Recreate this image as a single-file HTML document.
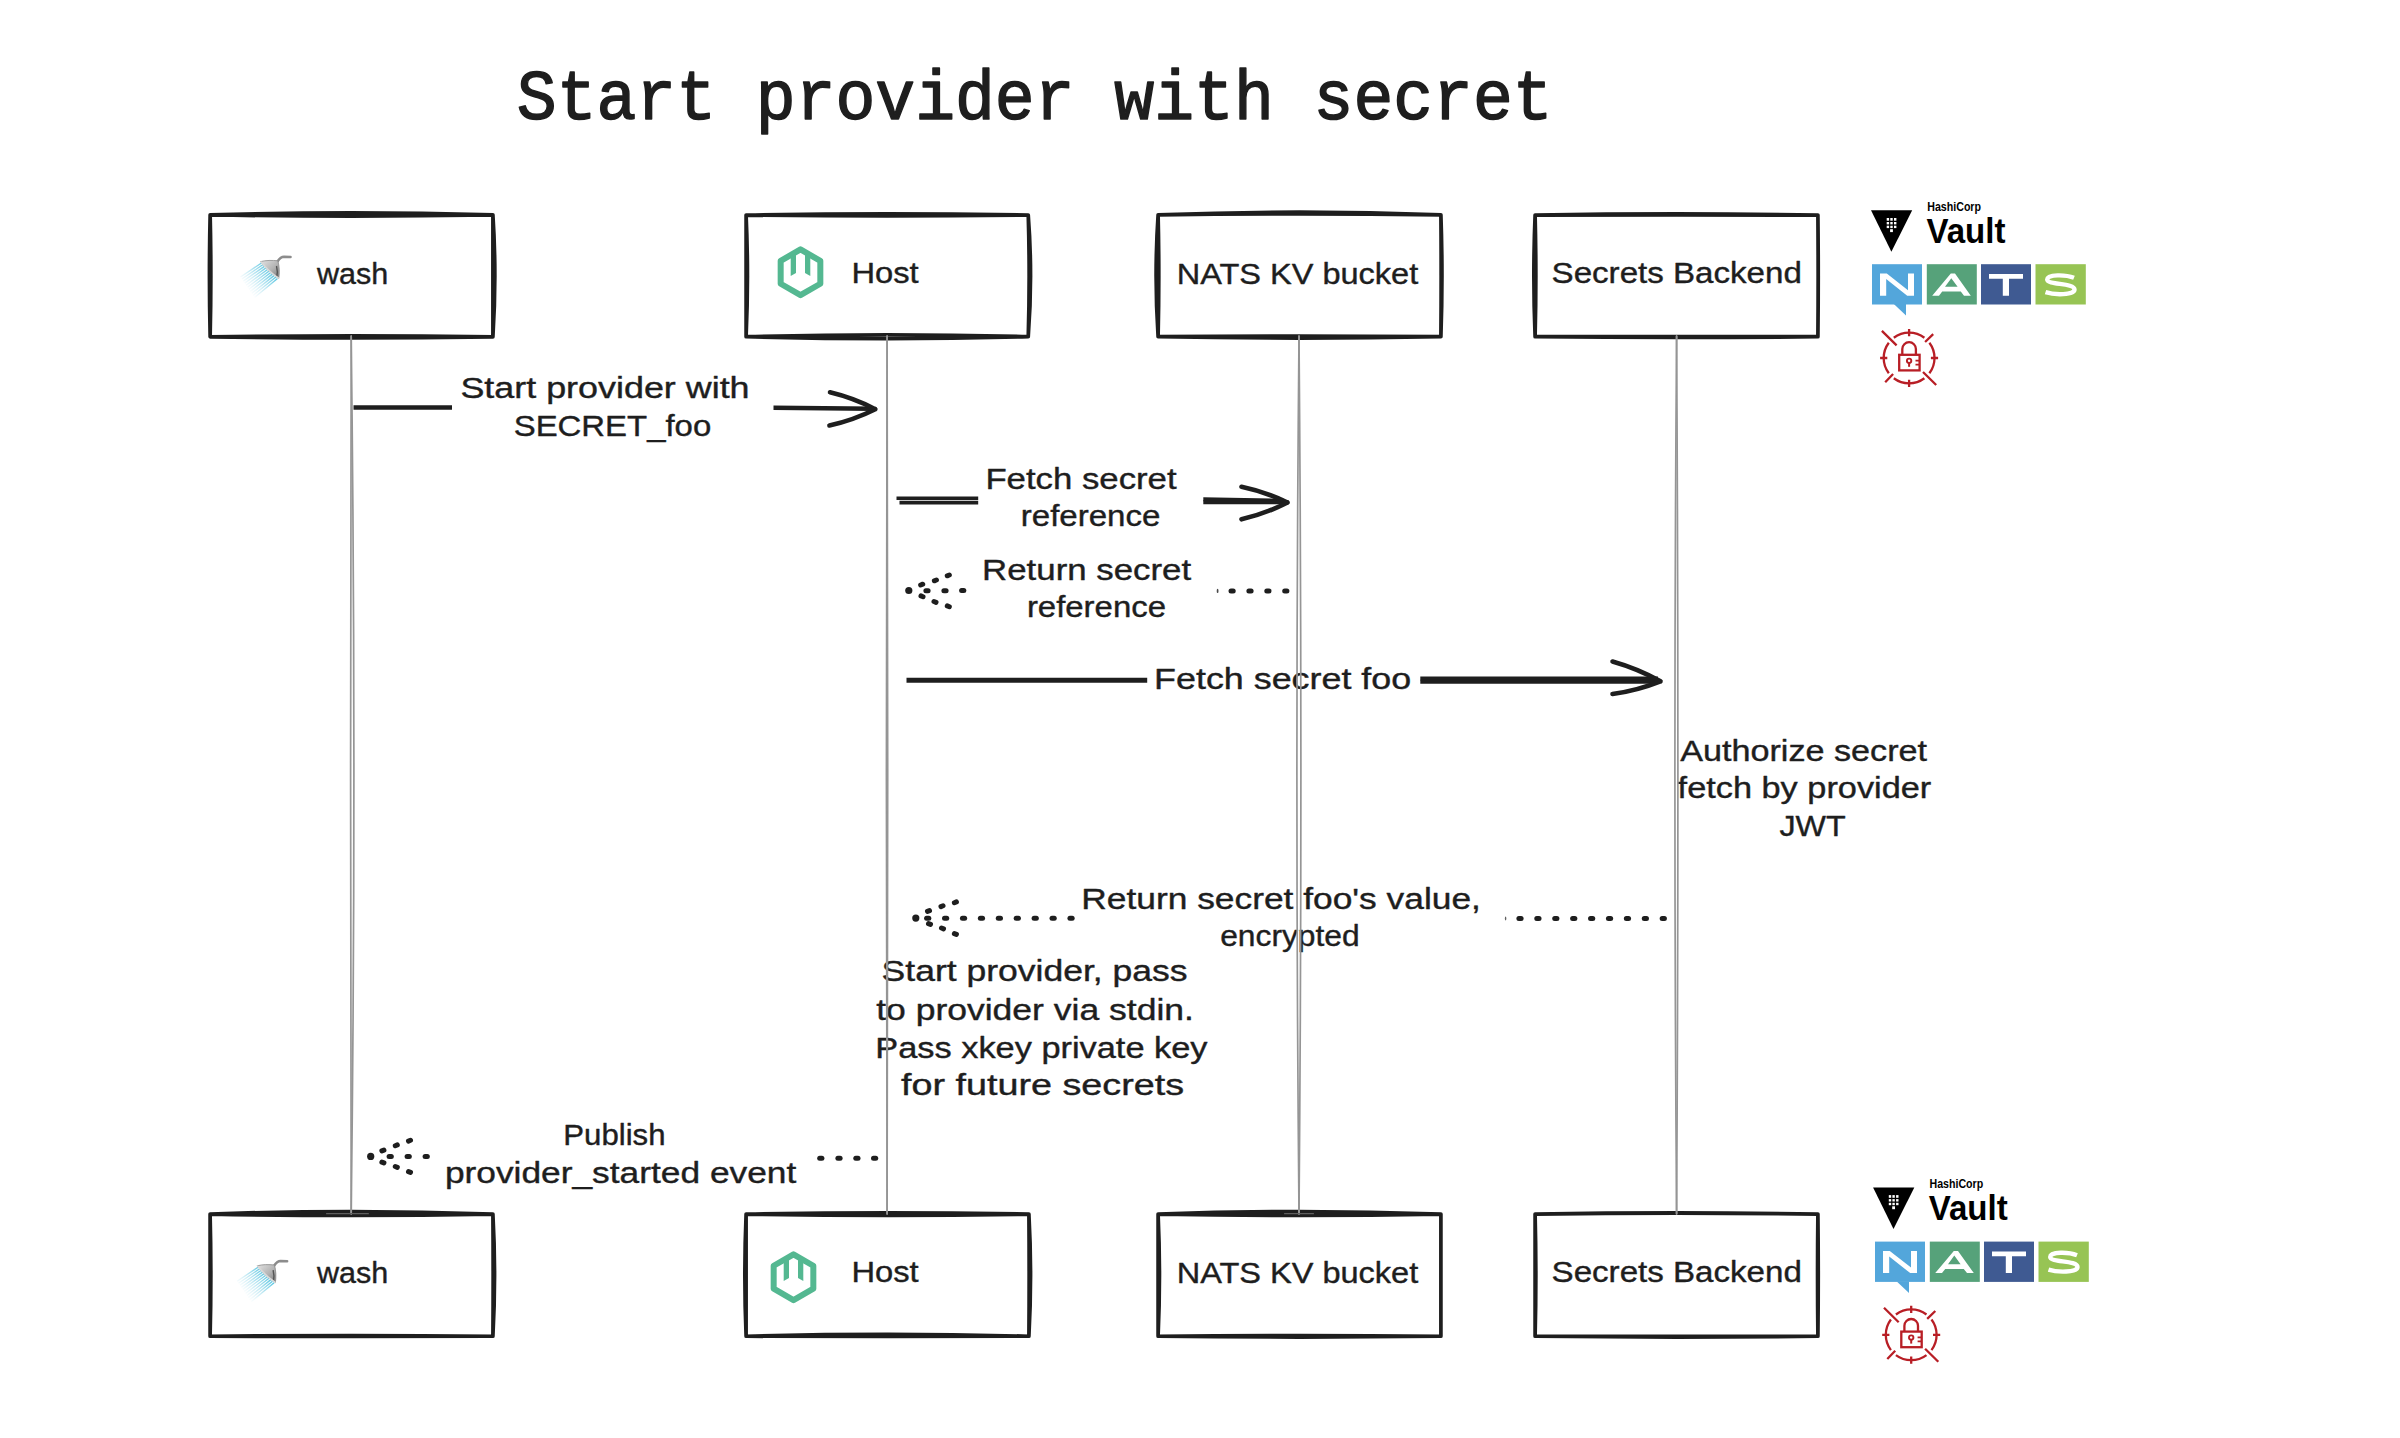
<!DOCTYPE html>
<html><head><meta charset="utf-8"><title>Start provider with secret</title>
<style>
html,body{margin:0;padding:0;background:#fff;}
body{width:2400px;height:1438px;overflow:hidden;}
svg{display:block;}
.t{font-family:"Liberation Sans",sans-serif;font-size:30px;fill:#1e1e1e;stroke:#1e1e1e;stroke-width:0.4px;stroke-linejoin:round;}
.title{font-family:"Liberation Mono",monospace;font-weight:normal;fill:#1e1e1e;stroke:#1e1e1e;stroke-width:1.5px;stroke-linejoin:round;}
.lg{font-family:"Liberation Sans",sans-serif;font-weight:bold;fill:#000;}
</style></head>
<body>
<svg width="2400" height="1438" viewBox="0 0 2400 1438">
<rect width="2400" height="1438" fill="#fff"/>
<text class="title" x="516.8" y="119.3" font-size="70.25" textLength="1035.81" lengthAdjust="spacingAndGlyphs">Start provider with secret</text>
<g stroke="#1e1e1e" stroke-width="3.7" fill="none" stroke-linecap="round" stroke-linejoin="round">
<path d="M210.15,214.9 Q351.52,210.6 492.9,214.9 M210.15,214.9 Q351.52,217.2 492.9,214.9 M210.15,336.8 Q351.52,334.9 492.9,336.8 M210.15,336.8 Q351.52,338.9 492.9,336.8 M210.15,214.9 Q208.75,275.85 210.15,336.8 M210.15,214.9 Q211.55,275.85 210.15,336.8 M492.9,214.9 Q492.9,275.85 492.9,336.8 M492.9,214.9 Q496.8,275.85 492.9,336.8"/>
<path d="M746.1,215.1 Q887.17,212.6 1028.25,215.1 M746.1,215.1 Q887.17,216.6 1028.25,215.1 M746.1,336.7 Q887.17,332.8 1028.25,336.7 M746.1,336.7 Q887.17,340.6 1028.25,336.7 M746.1,215.1 Q746.1,275.9 746.1,336.7 M746.1,215.1 Q748.8,275.9 746.1,336.7 M1028.25,215.1 Q1030.05,275.9 1028.25,336.7 M1028.25,215.1 Q1032.85,275.9 1028.25,336.7"/>
<path d="M1158.1,214.9 Q1299.5,209.4 1440.9,214.9 M1158.1,214.9 Q1299.5,213 1440.9,214.9 M1158.1,336.7 Q1299.5,335.4 1440.9,336.7 M1158.1,336.7 Q1299.5,339.4 1440.9,336.7 M1158.1,214.9 Q1154.1,275.8 1158.1,336.7 M1158.1,214.9 Q1159.5,275.8 1158.1,336.7 M1440.9,214.9 Q1441.4,275.8 1440.9,336.7 M1440.9,214.9 Q1443,275.8 1440.9,336.7"/>
<path d="M1535.1,215.1 Q1676.5,212.6 1817.9,215.1 M1535.1,215.1 Q1676.5,214.6 1817.9,215.1 M1535.1,336.7 Q1676.5,336.6 1817.9,336.7 M1535.1,336.7 Q1676.5,338.2 1817.9,336.7 M1535.1,215.1 Q1532.6,275.9 1535.1,336.7 M1535.1,215.1 Q1536.6,275.9 1535.1,336.7 M1817.9,215.1 Q1818.4,275.9 1817.9,336.7 M1817.9,215.1 Q1818.6,275.9 1817.9,336.7"/>
<path d="M210.1,1214.1 Q351.5,1209 492.9,1214.1 M210.1,1214.1 Q351.5,1216.8 492.9,1214.1 M210.1,1336.25 Q351.5,1335.05 492.9,1336.25 M210.1,1336.25 Q351.5,1336.65 492.9,1336.25 M210.1,1214.1 Q210,1275.17 210.1,1336.25 M210.1,1214.1 Q211.6,1275.17 210.1,1336.25 M492.9,1214.1 Q493.4,1275.17 492.9,1336.25 M492.9,1214.1 Q496.2,1275.17 492.9,1336.25"/>
<path d="M746.1,1214.1 Q887.5,1211.6 1028.9,1214.1 M746.1,1214.1 Q887.5,1216.8 1028.9,1214.1 M746.1,1336.25 Q887.5,1332.65 1028.9,1336.25 M746.1,1336.25 Q887.5,1336.65 1028.9,1336.25 M746.1,1214.1 Q743.6,1275.17 746.1,1336.25 M746.1,1214.1 Q746.2,1275.17 746.1,1336.25 M1028.9,1214.1 Q1029.4,1275.17 1028.9,1336.25 M1028.9,1214.1 Q1032.2,1275.17 1028.9,1336.25"/>
<path d="M1158.1,1214.1 Q1299.5,1209 1440.9,1214.1 M1158.1,1214.1 Q1299.5,1216.8 1440.9,1214.1 M1158.1,1336.25 Q1299.5,1335.05 1440.9,1336.25 M1158.1,1336.25 Q1299.5,1337.85 1440.9,1336.25 M1158.1,1214.1 Q1158,1275.17 1158.1,1336.25 M1158.1,1214.1 Q1160.8,1275.17 1158.1,1336.25 M1440.9,1214.1 Q1440.9,1275.17 1440.9,1336.25 M1440.9,1214.1 Q1441.1,1275.17 1440.9,1336.25"/>
<path d="M1535.1,1214.1 Q1676.5,1211.6 1817.9,1214.1 M1535.1,1214.1 Q1676.5,1212.4 1817.9,1214.1 M1535.1,1336.25 Q1676.5,1336.45 1817.9,1336.25 M1535.1,1336.25 Q1676.5,1337.85 1817.9,1336.25 M1535.1,1214.1 Q1535,1275.17 1535.1,1336.25 M1535.1,1214.1 Q1536.6,1275.17 1535.1,1336.25 M1817.9,1214.1 Q1817.2,1275.17 1817.9,1336.25 M1817.9,1214.1 Q1818.6,1275.17 1817.9,1336.25"/>
</g>
<g stroke="#1e1e1e" stroke-width="4.6" fill="none" stroke-linecap="round" stroke-linejoin="round">
<line x1="353.5" y1="407.5" x2="452" y2="407.5" stroke-linecap="butt"/>
<line x1="773.5" y1="407.7" x2="874" y2="408.7" stroke-linecap="butt"/>
<path d="M830,392.3 Q853.7,397.94 875.3,409.2 M829.4,425.5 Q853.35,420.18 875.3,409.2"/>
<line x1="896.5" y1="498.3" x2="978.2" y2="498.3" stroke-width="3.6" stroke-linecap="butt"/>
<line x1="899.5" y1="502.6" x2="978.2" y2="502.6" stroke-width="3.6" stroke-linecap="butt"/>
<line x1="1203.3" y1="499.2" x2="1284" y2="500.8" stroke-width="4" stroke-linecap="butt"/>
<line x1="1203.3" y1="502.3" x2="1284" y2="502.3" stroke-width="4" stroke-linecap="butt"/>
<path d="M1241.5,486.8 Q1265.47,491.81 1287.5,502.5 M1241.5,519.3 Q1265.53,513.72 1287.5,502.5"/>
<line x1="906.5" y1="680.3" x2="1147.2" y2="680.3" stroke-width="5" stroke-linecap="butt"/>
<line x1="1420.3" y1="678.5" x2="1658" y2="678.5" stroke-width="4" stroke-linecap="butt"/>
<line x1="1420.3" y1="681.7" x2="1659" y2="681.7" stroke-width="4" stroke-linecap="butt"/>
<path d="M1612.5,661.5 Q1637.64,668.63 1660.5,681.3 M1612.5,694 Q1637.27,690.55 1660.5,681.3"/>
</g>
<g stroke="#1e1e1e" stroke-linecap="round" fill="none">
<circle cx="908.8" cy="590.5" r="3.6" fill="#1e1e1e" stroke="none"/>
<line x1="925.9" y1="590.8" x2="928.1" y2="590.8" stroke-width="5.0"/>
<line x1="943.9" y1="590.8" x2="946.1" y2="590.8" stroke-width="5.0"/>
<line x1="961.6" y1="590.6" x2="963.8" y2="590.6" stroke-width="5.0"/>
<line x1="920.67" y1="584.99" x2="922.73" y2="584.21" stroke-width="5.0"/>
<line x1="934.37" y1="580.79" x2="936.43" y2="580.01" stroke-width="5.0"/>
<line x1="947.27" y1="575.79" x2="949.33" y2="575.01" stroke-width="5.0"/>
<line x1="920.98" y1="595.89" x2="923.02" y2="596.71" stroke-width="5.0"/>
<line x1="933.98" y1="601.49" x2="936.02" y2="602.31" stroke-width="5.0"/>
<line x1="947.28" y1="605.89" x2="949.32" y2="606.71" stroke-width="5.0"/>
<line x1="1231" y1="590.9" x2="1233.2" y2="590.9" stroke-width="5.0"/>
<line x1="1248.9" y1="590.9" x2="1251.1" y2="590.9" stroke-width="5.0"/>
<line x1="1266.8" y1="590.9" x2="1269" y2="590.9" stroke-width="5.0"/>
<line x1="1284.7" y1="590.9" x2="1286.9" y2="590.9" stroke-width="5.0"/>
<circle cx="915.8" cy="918.1" r="3.6" fill="#1e1e1e" stroke="none"/>
<line x1="926.6" y1="918.2" x2="928.8" y2="918.2" stroke-width="5.0"/>
<line x1="944.52" y1="918.2" x2="946.72" y2="918.2" stroke-width="5.0"/>
<line x1="962.44" y1="918.2" x2="964.64" y2="918.2" stroke-width="5.0"/>
<line x1="980.36" y1="918.2" x2="982.56" y2="918.2" stroke-width="5.0"/>
<line x1="998.28" y1="918.2" x2="1000.48" y2="918.2" stroke-width="5.0"/>
<line x1="1016.2" y1="918.2" x2="1018.4" y2="918.2" stroke-width="5.0"/>
<line x1="1034.12" y1="918.2" x2="1036.32" y2="918.2" stroke-width="5.0"/>
<line x1="1052.04" y1="918.2" x2="1054.24" y2="918.2" stroke-width="5.0"/>
<line x1="1069.96" y1="918.2" x2="1072.16" y2="918.2" stroke-width="5.0"/>
<line x1="927.48" y1="911.41" x2="929.52" y2="910.59" stroke-width="5.0"/>
<line x1="940.98" y1="906.61" x2="943.02" y2="905.79" stroke-width="5.0"/>
<line x1="954.38" y1="902.71" x2="956.42" y2="901.89" stroke-width="5.0"/>
<line x1="928.48" y1="923.59" x2="930.52" y2="924.41" stroke-width="5.0"/>
<line x1="941.48" y1="927.99" x2="943.52" y2="928.81" stroke-width="5.0"/>
<line x1="954.38" y1="933.59" x2="956.42" y2="934.41" stroke-width="5.0"/>
<line x1="1518.9" y1="918.6" x2="1521.1" y2="918.6" stroke-width="5.0"/>
<line x1="1536.81" y1="918.6" x2="1539.01" y2="918.6" stroke-width="5.0"/>
<line x1="1554.72" y1="918.6" x2="1556.92" y2="918.6" stroke-width="5.0"/>
<line x1="1572.63" y1="918.6" x2="1574.83" y2="918.6" stroke-width="5.0"/>
<line x1="1590.54" y1="918.6" x2="1592.74" y2="918.6" stroke-width="5.0"/>
<line x1="1608.45" y1="918.6" x2="1610.65" y2="918.6" stroke-width="5.0"/>
<line x1="1626.36" y1="918.6" x2="1628.56" y2="918.6" stroke-width="5.0"/>
<line x1="1644.27" y1="918.6" x2="1646.47" y2="918.6" stroke-width="5.0"/>
<line x1="1662.18" y1="918.6" x2="1664.38" y2="918.6" stroke-width="5.0"/>
<circle cx="370.7" cy="1156.4" r="3.6" fill="#1e1e1e" stroke="none"/>
<line x1="389.1" y1="1156.4" x2="391.3" y2="1156.4" stroke-width="5.0"/>
<line x1="407.1" y1="1156.4" x2="409.3" y2="1156.4" stroke-width="5.0"/>
<line x1="425.1" y1="1156.6" x2="427.3" y2="1156.6" stroke-width="5.0"/>
<line x1="381.88" y1="1150.91" x2="383.92" y2="1150.09" stroke-width="5.0"/>
<line x1="395.28" y1="1145.71" x2="397.32" y2="1144.89" stroke-width="5.0"/>
<line x1="408.48" y1="1141.11" x2="410.52" y2="1140.29" stroke-width="5.0"/>
<line x1="381.88" y1="1162.09" x2="383.92" y2="1162.91" stroke-width="5.0"/>
<line x1="395.28" y1="1166.49" x2="397.32" y2="1167.31" stroke-width="5.0"/>
<line x1="408.48" y1="1171.59" x2="410.52" y2="1172.41" stroke-width="5.0"/>
<line x1="819.7" y1="1158.3" x2="821.9" y2="1158.3" stroke-width="5.0"/>
<line x1="837.9" y1="1158.3" x2="840.1" y2="1158.3" stroke-width="5.0"/>
<line x1="855.8" y1="1158.3" x2="858" y2="1158.3" stroke-width="5.0"/>
<line x1="873.5" y1="1158.3" x2="875.7" y2="1158.3" stroke-width="5.0"/>
<ellipse cx="1217.6" cy="590.9" rx="0.9" ry="2.2" fill="#1e1e1e" stroke="none" opacity="0.8"/>
<ellipse cx="1505.6" cy="918.6" rx="0.7" ry="2.0" fill="#1e1e1e" stroke="none" opacity="0.7"/>
</g>
<defs><linearGradient id="wg" gradientUnits="userSpaceOnUse" x1="270" y1="270" x2="246" y2="290"><stop offset="0" stop-color="#56c4e0" stop-opacity="1"/><stop offset="1" stop-color="#b9e4f0" stop-opacity="0"/></linearGradient><linearGradient id="hg" x1="0" y1="0" x2="1" y2="1"><stop offset="0" stop-color="#e2e2e2"/><stop offset="0.55" stop-color="#b4b4b4"/><stop offset="1" stop-color="#7a7a7a"/></linearGradient></defs>
<g transform="translate(0,0)">
<path d="M261.50,263.00 L240.50,277.00 M263.10,264.55 L241.90,279.05 M264.70,266.10 L243.30,281.10 M266.30,267.65 L244.70,283.15 M267.90,269.20 L246.10,285.20 M269.50,270.75 L247.50,287.25 M271.10,272.30 L248.90,289.30 M272.70,273.85 L250.30,291.35 M274.30,275.40 L251.70,293.40 M275.90,276.95 L253.10,295.45 M277.50,278.50 L254.50,297.50" stroke="url(#wg)" stroke-width="1.35" fill="none"/>
<path d="M277.5,261.5 C279.5,258.5 281.5,256.8 284,256.8 L290.5,257" stroke="#8c8c8c" stroke-width="2.6" fill="none" stroke-linecap="round"/>
<path d="M260.6,261.6 C266,260.2 272,260.2 277.8,260.8 C279.5,266 279.6,273 278.8,278.4 C272,274 265.5,268 260.6,261.6 Z" fill="url(#hg)" stroke="#8a8a8a" stroke-width="0.8"/>
<path d="M276.5,266 C277.5,270 277.5,274 276.8,276.5" stroke="#555" stroke-width="1.4" fill="none"/>
<path d="M261.2,262 C265.5,267.5 271.5,273.5 278.3,278" stroke="#d9d9d9" stroke-width="1.6" fill="none" stroke-linecap="round"/>
</g>
<g transform="translate(-3.4,1004.2)">
<path d="M261.50,263.00 L240.50,277.00 M263.10,264.55 L241.90,279.05 M264.70,266.10 L243.30,281.10 M266.30,267.65 L244.70,283.15 M267.90,269.20 L246.10,285.20 M269.50,270.75 L247.50,287.25 M271.10,272.30 L248.90,289.30 M272.70,273.85 L250.30,291.35 M274.30,275.40 L251.70,293.40 M275.90,276.95 L253.10,295.45 M277.50,278.50 L254.50,297.50" stroke="url(#wg)" stroke-width="1.35" fill="none"/>
<path d="M277.5,261.5 C279.5,258.5 281.5,256.8 284,256.8 L290.5,257" stroke="#8c8c8c" stroke-width="2.6" fill="none" stroke-linecap="round"/>
<path d="M260.6,261.6 C266,260.2 272,260.2 277.8,260.8 C279.5,266 279.6,273 278.8,278.4 C272,274 265.5,268 260.6,261.6 Z" fill="url(#hg)" stroke="#8a8a8a" stroke-width="0.8"/>
<path d="M276.5,266 C277.5,270 277.5,274 276.8,276.5" stroke="#555" stroke-width="1.4" fill="none"/>
<path d="M261.2,262 C265.5,267.5 271.5,273.5 278.3,278" stroke="#d9d9d9" stroke-width="1.6" fill="none" stroke-linecap="round"/>
</g>
<path d="M800.50,249.40 L820.33,260.85 L820.33,283.75 L800.50,295.20 L780.67,283.75 L780.67,260.85 Z" fill="none" stroke="#54b891" stroke-width="6" stroke-linejoin="round"/>
<polygon fill="#54b891" points="790.70,256.00 796.00,253.00 796.00,273.00 790.70,276.00"/>
<polygon fill="#54b891" points="805.00,253.00 810.30,256.00 810.30,276.00 805.00,273.00"/>
<path d="M793.50,1254.30 L813.33,1265.75 L813.33,1288.65 L793.50,1300.10 L773.67,1288.65 L773.67,1265.75 Z" fill="none" stroke="#54b891" stroke-width="6" stroke-linejoin="round"/>
<polygon fill="#54b891" points="783.70,1260.90 789.00,1257.90 789.00,1277.90 783.70,1280.90"/>
<polygon fill="#54b891" points="798.00,1257.90 803.30,1260.90 803.30,1280.90 798.00,1277.90"/>
<g transform="translate(0,0)">
<polygon points="1871,210.3 1912.2,210.3 1891.4,251.8" fill="#000"/>
<rect x="1886.7" y="218" width="2.40" height="2.70" fill="#fff"/>
<rect x="1890.3" y="218" width="2.40" height="2.70" fill="#fff"/>
<rect x="1894" y="218" width="2.40" height="2.70" fill="#fff"/>
<rect x="1886.7" y="222" width="2.40" height="2.40" fill="#fff"/>
<rect x="1890.3" y="222" width="2.40" height="2.40" fill="#fff"/>
<rect x="1894" y="222" width="2.40" height="2.40" fill="#fff"/>
<rect x="1886.7" y="225.7" width="2.40" height="2.40" fill="#fff"/>
<rect x="1890.3" y="225.7" width="2.40" height="2.40" fill="#fff"/>
<rect x="1894" y="225.7" width="2.40" height="2.40" fill="#fff"/>
<rect x="1890.1" y="229.2" width="2.8" height="2.9" fill="#fff"/>
</g>
<g transform="translate(2.1,977.1)">
<polygon points="1871,210.3 1912.2,210.3 1891.4,251.8" fill="#000"/>
<rect x="1886.7" y="218" width="2.40" height="2.70" fill="#fff"/>
<rect x="1890.3" y="218" width="2.40" height="2.70" fill="#fff"/>
<rect x="1894" y="218" width="2.40" height="2.70" fill="#fff"/>
<rect x="1886.7" y="222" width="2.40" height="2.40" fill="#fff"/>
<rect x="1890.3" y="222" width="2.40" height="2.40" fill="#fff"/>
<rect x="1894" y="222" width="2.40" height="2.40" fill="#fff"/>
<rect x="1886.7" y="225.7" width="2.40" height="2.40" fill="#fff"/>
<rect x="1890.3" y="225.7" width="2.40" height="2.40" fill="#fff"/>
<rect x="1894" y="225.7" width="2.40" height="2.40" fill="#fff"/>
<rect x="1890.1" y="229.2" width="2.8" height="2.9" fill="#fff"/>
</g>
<text class="lg" x="1927.3" y="211" font-size="13" textLength="53.7" lengthAdjust="spacingAndGlyphs">HashiCorp</text>
<text class="lg" x="1926.5" y="243" font-size="35.5" textLength="79" lengthAdjust="spacingAndGlyphs">Vault</text>
<text class="lg" x="1929.5" y="1188" font-size="13" textLength="53.7" lengthAdjust="spacingAndGlyphs">HashiCorp</text>
<text class="lg" x="1928.7" y="1220" font-size="35.5" textLength="79" lengthAdjust="spacingAndGlyphs">Vault</text>
<g transform="translate(0,0)">
<rect x="1872" y="264.2" width="50.0" height="40.3" fill="#53a6db"/>
<rect x="1926.8" y="264.2" width="50.0" height="40.3" fill="#56a27a"/>
<rect x="1981" y="264.2" width="50.0" height="40.3" fill="#3f5a92"/>
<rect x="2035.5" y="264.2" width="50.3" height="40.3" fill="#97c454"/>
<polygon points="1893.8,304 1906,304 1906,315.6" fill="#53a6db"/>
<polygon fill="#fff" points="1880.00,273.50 1886.80,273.50 1908.00,290.20 1908.00,273.50 1914.00,273.50 1914.00,295.70 1907.20,295.70 1886.20,279.00 1886.20,295.70 1880.00,295.70"/>
<path fill="#fff" fill-rule="evenodd" d="M1932.20,295.70 L1950.80,273.50 L1955.00,273.50 L1970.80,295.70 L1964.00,295.70 L1960.80,291.50 L1942.20,291.50 L1939.00,295.70 Z M1945.00,286.80 L1957.60,286.80 L1951.30,278.20 Z"/>
<polygon fill="#fff" points="1989.00,274.00 2023.00,274.00 2023.00,278.80 2009.00,278.80 2009.00,295.70 2002.80,295.70 2002.80,278.80 1989.00,278.80"/>
<path d="M2074.00,277.80 C2066.00,274.60 2047.20,274.00 2047.20,279.60 C2047.20,285.20 2074.50,282.60 2074.50,289.60 C2074.50,295.40 2054.00,295.00 2045.50,292.20" fill="none" stroke="#fff" stroke-width="4.4"/>
</g>
<g transform="translate(3,977.4)">
<rect x="1872" y="264.2" width="50.0" height="40.3" fill="#53a6db"/>
<rect x="1926.8" y="264.2" width="50.0" height="40.3" fill="#56a27a"/>
<rect x="1981" y="264.2" width="50.0" height="40.3" fill="#3f5a92"/>
<rect x="2035.5" y="264.2" width="50.3" height="40.3" fill="#97c454"/>
<polygon points="1893.8,304 1906,304 1906,315.6" fill="#53a6db"/>
<polygon fill="#fff" points="1880.00,273.50 1886.80,273.50 1908.00,290.20 1908.00,273.50 1914.00,273.50 1914.00,295.70 1907.20,295.70 1886.20,279.00 1886.20,295.70 1880.00,295.70"/>
<path fill="#fff" fill-rule="evenodd" d="M1932.20,295.70 L1950.80,273.50 L1955.00,273.50 L1970.80,295.70 L1964.00,295.70 L1960.80,291.50 L1942.20,291.50 L1939.00,295.70 Z M1945.00,286.80 L1957.60,286.80 L1951.30,278.20 Z"/>
<polygon fill="#fff" points="1989.00,274.00 2023.00,274.00 2023.00,278.80 2009.00,278.80 2009.00,295.70 2002.80,295.70 2002.80,278.80 1989.00,278.80"/>
<path d="M2074.00,277.80 C2066.00,274.60 2047.20,274.00 2047.20,279.60 C2047.20,285.20 2074.50,282.60 2074.50,289.60 C2074.50,295.40 2054.00,295.00 2045.50,292.20" fill="none" stroke="#fff" stroke-width="4.4"/>
</g>
<g transform="translate(0,0)" stroke="#b81e25" fill="none" stroke-width="2.3">
<path d="M1893.81,337.71 A25.4,25.4 0 0 1 1924.39,337.71"/>
<path d="M1929.39,342.71 A25.4,25.4 0 0 1 1929.39,373.29"/>
<path d="M1924.39,378.29 A25.4,25.4 0 0 1 1893.81,378.29"/>
<path d="M1888.81,373.29 A25.4,25.4 0 0 1 1888.81,342.71"/>
<path d="M1909.1,329.0 V336.20000000000005 M1909.1,379.79999999999995 V387.0 M1880.1,358.0 H1887.2999999999997 M1930.9,358.0 H1938.1"/>
<path d="M1881.9,330.9 L1896.6,345.4 M1925.1,342 L1933.2,334.2 M1885.2,382.2 L1893.1,374 M1923,372 L1936.2,385" stroke-width="2.3"/>
<rect x="1899.2" y="354.8" width="20.4" height="15.6"/>
<path d="M1902.3,354.8 V349 A6.8,6.8 0 0 1 1915.9,349 V354.8"/>
<circle cx="1909.1" cy="360.8" r="2.2" stroke-width="1.9"/>
<path d="M1909.1,363 V366.8" stroke-width="2"/>
<path d="M1915.5,360.6 H1919 M1915.5,364.6 H1919" stroke-width="1.8"/>
</g>
<g transform="translate(2.1,976.8)" stroke="#b81e25" fill="none" stroke-width="2.3">
<path d="M1893.81,337.71 A25.4,25.4 0 0 1 1924.39,337.71"/>
<path d="M1929.39,342.71 A25.4,25.4 0 0 1 1929.39,373.29"/>
<path d="M1924.39,378.29 A25.4,25.4 0 0 1 1893.81,378.29"/>
<path d="M1888.81,373.29 A25.4,25.4 0 0 1 1888.81,342.71"/>
<path d="M1909.1,329.0 V336.20000000000005 M1909.1,379.79999999999995 V387.0 M1880.1,358.0 H1887.2999999999997 M1930.9,358.0 H1938.1"/>
<path d="M1881.9,330.9 L1896.6,345.4 M1925.1,342 L1933.2,334.2 M1885.2,382.2 L1893.1,374 M1923,372 L1936.2,385" stroke-width="2.3"/>
<rect x="1899.2" y="354.8" width="20.4" height="15.6"/>
<path d="M1902.3,354.8 V349 A6.8,6.8 0 0 1 1915.9,349 V354.8"/>
<circle cx="1909.1" cy="360.8" r="2.2" stroke-width="1.9"/>
<path d="M1909.1,363 V366.8" stroke-width="2"/>
<path d="M1915.5,360.6 H1919 M1915.5,364.6 H1919" stroke-width="1.8"/>
</g>
<text class="t" x="317.0" y="283.6" textLength="71.3" lengthAdjust="spacingAndGlyphs">wash</text>
<text class="t" x="851.5" y="282.7" textLength="67.2" lengthAdjust="spacingAndGlyphs">Host</text>
<text class="t" x="1176.7" y="283.6" textLength="241.5" lengthAdjust="spacingAndGlyphs">NATS KV bucket</text>
<text class="t" x="1551.6" y="283.2" textLength="250.2" lengthAdjust="spacingAndGlyphs">Secrets Backend</text>
<text class="t" x="317.0" y="1282.6" textLength="71.3" lengthAdjust="spacingAndGlyphs">wash</text>
<text class="t" x="851.5" y="1281.7" textLength="67.2" lengthAdjust="spacingAndGlyphs">Host</text>
<text class="t" x="1176.7" y="1282.6" textLength="241.5" lengthAdjust="spacingAndGlyphs">NATS KV bucket</text>
<text class="t" x="1551.6" y="1282.2" textLength="250.2" lengthAdjust="spacingAndGlyphs">Secrets Backend</text>
<text class="t" x="460.4" y="398" textLength="289.2" lengthAdjust="spacingAndGlyphs">Start provider with</text>
<text class="t" x="513.7" y="435.5" textLength="197.5" lengthAdjust="spacingAndGlyphs">SECRET_foo</text>
<text class="t" x="985.4" y="488.5" textLength="191.2" lengthAdjust="spacingAndGlyphs">Fetch secret</text>
<text class="t" x="1020.8" y="526" textLength="139.6" lengthAdjust="spacingAndGlyphs">reference</text>
<text class="t" x="982.1" y="579.5" textLength="209.0" lengthAdjust="spacingAndGlyphs">Return secret</text>
<text class="t" x="1026.9" y="617" textLength="139.1" lengthAdjust="spacingAndGlyphs">reference</text>
<text class="t" x="1154.1" y="689" textLength="257.1" lengthAdjust="spacingAndGlyphs">Fetch secret foo</text>
<text class="t" x="1680.2" y="761" textLength="246.9" lengthAdjust="spacingAndGlyphs">Authorize secret</text>
<text class="t" x="1677.6" y="798.3" textLength="253.7" lengthAdjust="spacingAndGlyphs">fetch by provider</text>
<text class="t" x="1779.4" y="835.8" textLength="66.2" lengthAdjust="spacingAndGlyphs">JWT</text>
<text class="t" x="1081.3" y="908.5" textLength="399.6" lengthAdjust="spacingAndGlyphs">Return secret foo&#39;s value,</text>
<text class="t" x="1220.2" y="946" textLength="139.5" lengthAdjust="spacingAndGlyphs">encrypted</text>
<text class="t" x="881.6" y="981.4" textLength="305.9" lengthAdjust="spacingAndGlyphs">Start provider, pass</text>
<text class="t" x="876.2" y="1019.5" textLength="317.7" lengthAdjust="spacingAndGlyphs">to provider via stdin.</text>
<text class="t" x="875.3" y="1057.5" textLength="332.2" lengthAdjust="spacingAndGlyphs">Pass xkey private key</text>
<text class="t" x="901.1" y="1094.5" textLength="282.9" lengthAdjust="spacingAndGlyphs">for future secrets</text>
<text class="t" x="563.3" y="1145" textLength="102.2" lengthAdjust="spacingAndGlyphs">Publish</text>
<text class="t" x="444.9" y="1182.5" textLength="351.4" lengthAdjust="spacingAndGlyphs">provider_started event</text>

<g stroke="#959595" stroke-width="1.7" fill="none" stroke-linecap="round">
<path d="M351.2,336.2 Q350.00,775 351.2,1213.8"/>
<path d="M351.2,336.2 Q356.60,775 351.2,1213.8"/>
<path d="M887.1,336.2 Q885.70,775 887.1,1213.8"/>
<path d="M887.1,336.2 Q888.30,775 887.1,1213.8"/>
<path d="M1299,336.2 Q1294.80,775 1299,1213.8"/>
<path d="M1299,336.2 Q1302.80,775 1299,1213.8"/>
<path d="M1676.6,336.2 Q1673.20,775 1676.6,1213.8"/>
<path d="M1676.6,336.2 Q1679.20,775 1676.6,1213.8"/>
</g>
<path d="M326.1,1213.6 H368.8 M1284.1,1213.6 H1313.9" stroke="#5e5e5e" stroke-width="1.1" fill="none"/>
</svg>
</body></html>
